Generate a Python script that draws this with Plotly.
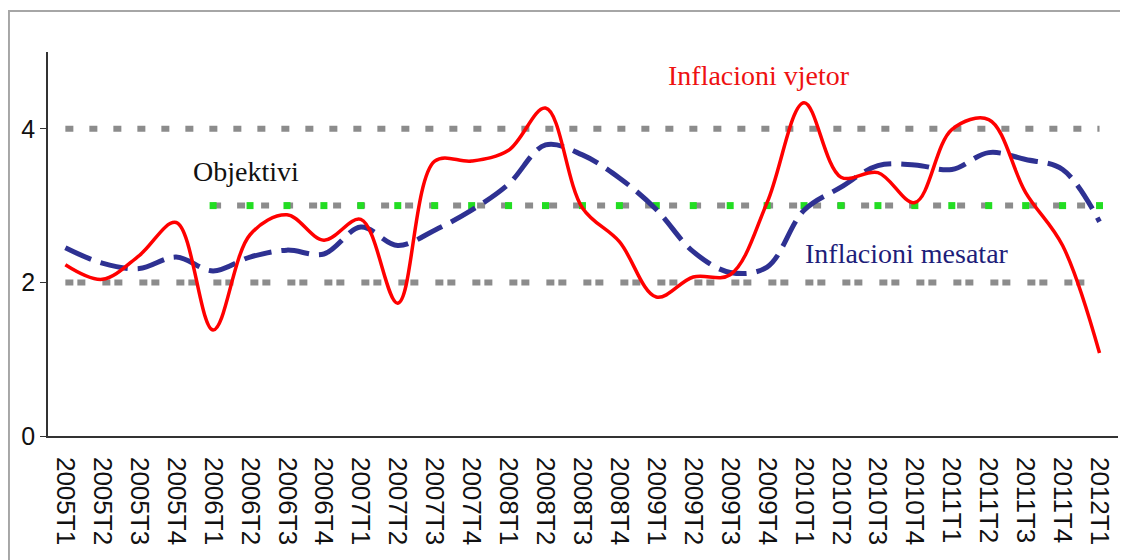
import plotly.graph_objects as go

# ==========================================================
# Data
# ==========================================================

quarters = [
    "2005T1", "2005T2", "2005T3", "2005T4",
    "2006T1", "2006T2", "2006T3", "2006T4",
    "2007T1", "2007T2", "2007T3", "2007T4",
    "2008T1", "2008T2", "2008T3", "2008T4",
    "2009T1", "2009T2", "2009T3", "2009T4",
    "2010T1", "2010T2", "2010T3", "2010T4",
    "2011T1", "2011T2", "2011T3", "2011T4",
    "2012T1",
]

inflacioni_vjetor = [
    2.23, 2.04, 2.35, 2.78,
    1.38, 2.62, 2.88, 2.55,
    2.82, 1.73, 3.58, 3.58,
    3.72, 4.27, 2.97, 2.53,
    1.81, 2.07, 2.10, 3.04,
    4.34, 3.37, 3.43, 3.04,
    3.99, 4.12, 3.17, 2.48,
    1.08,
]

inflacioni_mesatar = [
    2.45, 2.25, 2.18, 2.33,
    2.15, 2.33, 2.42, 2.37,
    2.72, 2.48, 2.68, 2.94,
    3.28, 3.79, 3.66, 3.36,
    2.95, 2.40, 2.13, 2.20,
    2.94, 3.24, 3.52, 3.53,
    3.47, 3.69, 3.60, 3.47,
    2.79,
]

kufiri_siper = [
    4, 4, 4, 4, 4, 4, 4, 4, 4, 4, 4, 4, 4, 4, 4,
    4, 4, 4, 4, 4, 4, 4, 4, 4, 4, 4, 4, 4, 4,
]

kufiri_poshte = [
    2, 2, 2, 2, 2, 2, 2, 2, 2, 2, 2, 2, 2, 2, 2,
    2, 2, 2, 2, 2, 2, 2, 2, 2, 2, 2, 2, 2, 2,
]

objektivi = [
    None, None, None, None, 3, 3, 3, 3, 3, 3, 3, 3, 3, 3, 3,
    3, 3, 3, 3, 3, 3, 3, 3, 3, 3, 3, 3, 3, 3,
]


# ==========================================================
# Figure
# ==========================================================

fig = go.Figure()

fig.add_trace(
    go.Scatter(
        x=quarters,
        y=kufiri_siper,
        mode="lines",
        line=dict(color="#8c8c8c", width=6, dash="8px,16px"),
        showlegend=False
    )
)

fig.add_trace(
    go.Scatter(
        x=quarters,
        y=kufiri_poshte,
        mode="lines",
        line=dict(color="#8c8c8c", width=6, dash="8px,4px,8px,17px"),
        showlegend=False
    )
)

fig.add_trace(
    go.Scatter(
        x=quarters,
        y=objektivi,
        mode="lines",
        line=dict(color="#8c8c8c", width=6, dash="8px,16px"),
        showlegend=False
    )
)

fig.add_trace(
    go.Scatter(
        x=quarters,
        y=objektivi,
        mode="markers",
        marker=dict(color="#22dd22", size=7, symbol="square"),
        showlegend=False
    )
)

fig.add_trace(
    go.Scatter(
        x=quarters,
        y=inflacioni_mesatar,
        mode="lines",
        line=dict(color="#2e3192", width=5, dash="28px,10px", shape="spline", smoothing=1),
        showlegend=False
    )
)

fig.add_trace(
    go.Scatter(
        x=quarters,
        y=inflacioni_vjetor,
        mode="lines",
        line=dict(color="#ff0000", width=3.5, shape="spline", smoothing=1),
        showlegend=False
    )
)

# labels
fig.add_annotation(
    x=18.77, y=4.69, xref="x", yref="y",
    text="Inflacioni vjetor", showarrow=False,
    font=dict(family="Liberation Serif", size=28, color="#ee1111")
)

fig.add_annotation(
    x=4.9, y=3.44, xref="x", yref="y",
    text="Objektivi", showarrow=False,
    font=dict(family="Liberation Serif", size=28, color="#111111")
)

fig.add_annotation(
    x=22.8, y=2.38, xref="x", yref="y",
    text="Inflacioni mesatar", showarrow=False,
    font=dict(family="Liberation Serif", size=28, color="#1e1e7a")
)

# outer frame (page body adds an 8px offset, margins compensate for it)
fig.add_shape(
    type="rect", xref="paper", yref="paper",
    x0=-0.0365, x1=1.0084, y0=-0.6, y1=1.107,
    line=dict(color="#a6a6a6", width=2),
    fillcolor="rgba(0,0,0,0)", layer="below"
)

fig.update_layout(
    width=1128,
    height=560,
    margin=dict(l=40, r=18, t=44, b=132),
    paper_bgcolor="white",
    plot_bgcolor="white",
    font=dict(family="Liberation Sans", color="black"),
    xaxis=dict(
        type="category",
        range=[-0.47, 28.5],
        automargin=False,
        showline=True,
        linecolor="#333333",
        linewidth=1.5,
        ticks="",
        tickangle=90,
        tickfont=dict(size=26, family="Liberation Sans", color="#111111"),
        ticklabelstandoff=14,
        showgrid=False,
        zeroline=False,
        fixedrange=True
    ),
    yaxis=dict(
        range=[0, 5],
        tickvals=[0, 2, 4],
        automargin=False,
        showline=True,
        linecolor="#333333",
        linewidth=1.5,
        ticks="outside",
        ticklen=6,
        tickcolor="#333333",
        tickfont=dict(size=25, family="Liberation Sans", color="#111111"),
        showgrid=False,
        zeroline=False
    )
)

fig.write_html("out.html")
